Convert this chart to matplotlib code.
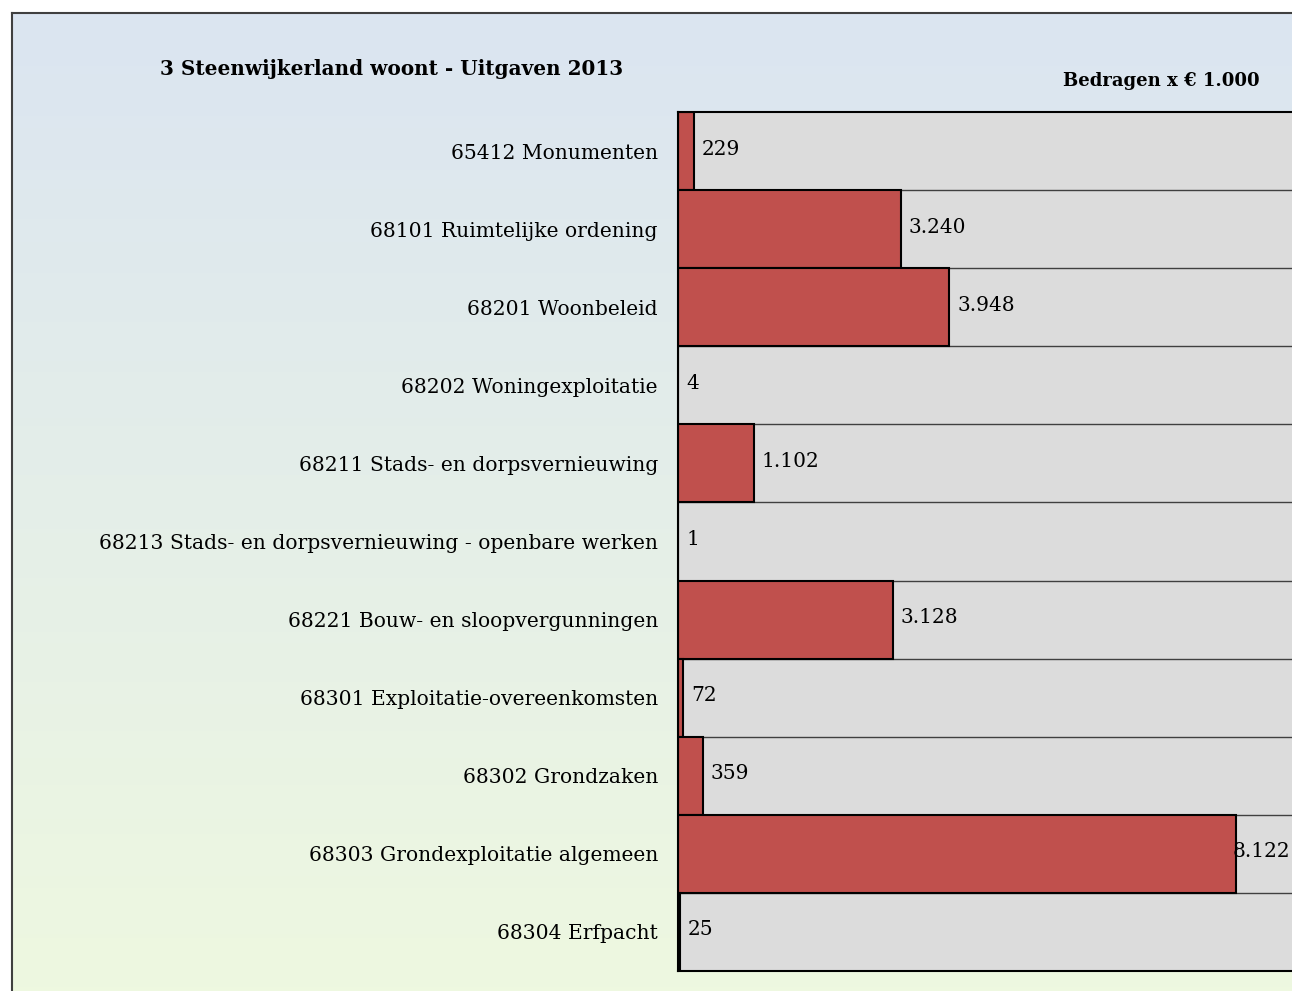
import matplotlib
matplotlib.use("Agg")
import matplotlib.pyplot as plt
import numpy as np

categories = [
    "65412 Monumenten",
    "68101 Ruimtelijke ordening",
    "68201 Woonbeleid",
    "68202 Woningexploitatie",
    "68211 Stads- en dorpsvernieuwing",
    "68213 Stads- en dorpsvernieuwing - openbare werken",
    "68221 Bouw- en sloopvergunningen",
    "68301 Exploitatie-overeenkomsten",
    "68302 Grondzaken",
    "68303 Grondexploitatie algemeen",
    "68304 Erfpacht",
]
values = [229, 3240, 3948, 4, 1102, 1, 3128, 72, 359, 8122, 25]
value_labels = ["229", "3.240", "3.948", "4", "1.102", "1", "3.128", "72", "359", "8.122", "25"]
title = "3 Steenwijkerland woont - Uitgaven 2013"
unit_note = "Bedragen x \u20ac 1.000"

plt.rcParams['font.family'] = ['DejaVu Serif', 'Liberation Serif']

W, H = 1292, 991
fig = plt.figure(figsize=(W / 100, H / 100), dpi=100)
fig.patch.set_facecolor('white')

# gradient background inside frame
fl, ft = 12, 13
bg = fig.add_axes([fl / W, 0, 1 - fl / W + 0.01, 1 - ft / H])
top = np.array([0xDB, 0xE5, 0xF1]) / 255
bot = np.array([0xEE, 0xF8, 0xE0]) / 255
t = np.linspace(0, 1, 256)[:, None]
grad = top[None, :] * (1 - t) + bot[None, :] * t
bg.imshow(grad[:, None, :], aspect='auto', extent=[0, 1, 0, 1])
bg.set_xticks([]); bg.set_yticks([])
for s in ['right', 'bottom']:
    bg.spines[s].set_visible(False)
for s in ['left', 'top']:
    bg.spines[s].set_color('#404040')
    bg.spines[s].set_linewidth(1.5)

# main axes
x0, x1 = 678, 1365
y_top, y_bot = 112, 971
xmax = 10000
ax = fig.add_axes([x0 / W, 1 - y_bot / H, (x1 - x0) / W, (y_bot - y_top) / H])
ax.set_facecolor('#DCDCDC')
n = len(categories)
ypos = np.arange(n)
ax.set_xlim(0, xmax)
ax.set_ylim(n - 0.5, -0.5)
for b in np.arange(n - 1) + 0.5:
    ax.axhline(b, color='#404040', lw=1.0, zorder=1)
ax.barh(ypos, values, height=1.0, color='#C0504D', edgecolor='black', linewidth=1.5, zorder=3)
ax.set_xticks([])
ax.set_yticks(ypos)
ax.set_yticklabels(categories, fontsize=14.6)
ax.tick_params(axis='y', length=0, pad=14.4)
for s in ax.spines.values():
    s.set_color('black')
    s.set_linewidth(1.5)
    s.set_zorder(5)

px_per_unit = (x1 - x0) / xmax
row_h = (y_bot - y_top) / n
for i, (v, lab) in enumerate(zip(values, value_labels)):
    end_px = x0 + v * px_per_unit
    if end_px + 66 > W:
        fig.text((W - 2) / W, 1 - (row_h * (i + 0.5) + y_top - 2) / H, lab,
                 ha='right', va='center', fontsize=14.5, zorder=10)
    else:
        ax.annotate(lab, (v, i), xytext=(8, 2), textcoords='offset pixels',
                    ha='left', va='center', fontsize=14.5, zorder=6)

fig.text(160 / W, 1 - 69 / H, title, ha='left', va='center', fontsize=14.4, fontweight='bold')
fig.text(1260 / W, 1 - 81 / H, unit_note, ha='right', va='center', fontsize=13, fontweight='bold')

fig.savefig('out.png', dpi=100)
